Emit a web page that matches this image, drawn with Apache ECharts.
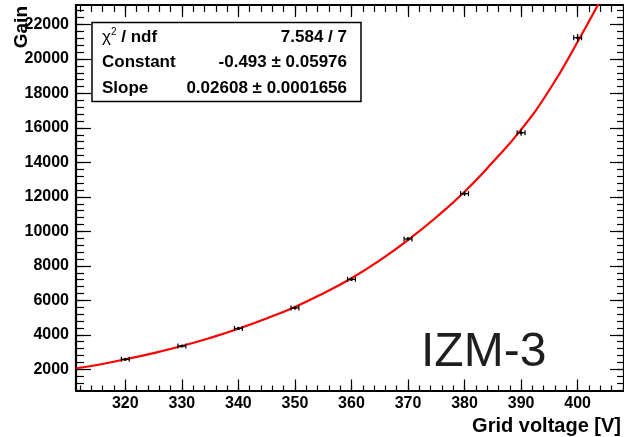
<!DOCTYPE html>
<html>
<head>
<meta charset="utf-8">
<script src="https://cdn.jsdelivr.net/npm/echarts@6/dist/echarts.min.js"></script>
<style>html,body{margin:0;padding:0;background:#fff}#c{width:624px;height:437px}</style>
</head>
<body>
<div id="c"></div>
<script>
// ---- data ----
const xTicks = [320, 330, 340, 350, 360, 370, 380, 390, 400];
const yTicks = [2000, 4000, 6000, 8000, 10000, 12000, 14000, 16000, 18000, 20000, 22000];
const voltage = [320, 330, 340, 350, 360, 370, 380, 390, 400];
const gain = [2580, 3350, 4370, 5560, 7220, 9560, 12190, 15720, 21230];
const voltageErr = [0.7, 0.7, 0.7, 0.7, 0.7, 0.7, 0.7, 0.7, 0.7];
const gainErr = [40, 50, 60, 70, 90, 110, 140, 170, 220];
const fitVoltage = [311.3, 315, 320, 325, 330, 335, 340, 345, 350, 355, 360, 365, 370, 375, 380, 385, 390, 395, 400, 405];
const fitGain = [2060, 2250, 2580, 2940, 3350, 3820, 4350, 4950, 5620, 6400, 7280, 8320, 9500, 10820, 12300, 14020, 15900, 18200, 21000, 24000];
const statNames = ['χ² / ndf', 'Constant', 'Slope'];
const statValues = ['7.584 / 7', '-0.493 ± 0.05976', '0.02608 ± 0.0001656'];
const xTitle = 'Grid voltage [V]';
const yTitle = 'Gain';
const label = 'IZM-3';

const X_MIN = 311.28, X_MAX = 408.2, Y_MIN = 770, Y_MAX = 23131;
const xMinor = []; for (let v = 312; v <= 408; v += 2) xMinor.push(v);
const yMinor = []; for (let v = 800; v <= 23000; v += 400) yMinor.push(v);

const FONT = '"Liberation Sans", Arial, Helvetica, sans-serif';
const gridPos = { left: 76, top: 5, right: 0, bottom: 46.5 };
const plain = function (v) { return String(Math.round(v)); };

function xAx(grid, pos, ticks, len, showLine, showLabel) {
  return {
    type: 'value', gridIndex: grid, position: pos, min: X_MIN, max: X_MAX,
    axisLine: { show: showLine, onZero: false, lineStyle: { color: '#000', width: 2.2 } },
    axisTick: { show: true, inside: true, length: len, customValues: ticks, lineStyle: { color: '#000', width: 1.2 } },
    axisLabel: { show: showLabel, customValues: xTicks, formatter: plain, margin: 5, color: '#000', fontSize: 16, fontWeight: 'bold', fontFamily: FONT },
    splitLine: { show: false }, minorTick: { show: false }
  };
}
function yAx(grid, pos, ticks, len, showLine, showLabel) {
  return {
    type: 'value', gridIndex: grid, position: pos, min: Y_MIN, max: Y_MAX,
    axisLine: { show: showLine, onZero: false, lineStyle: { color: '#000', width: 2.2 } },
    axisTick: { show: true, inside: true, length: len, customValues: ticks, lineStyle: { color: '#000', width: 1.2 } },
    axisLabel: { show: showLabel, customValues: yTicks, formatter: plain, margin: 7, color: '#000', fontSize: 16, fontWeight: 'bold', fontFamily: FONT },
    splitLine: { show: false }, minorTick: { show: false }
  };
}

const pts = voltage.map((v, i) => [v, gain[i], voltageErr[i], gainErr[i]]);
const fit = fitVoltage.map((v, i) => [v, fitGain[i]]);

const graphics = [
  { type: 'rect', shape: { x: 92, y: 22.5, width: 269, height: 79 }, style: { fill: '#fff', stroke: '#000', lineWidth: 1.5 }, z: 10 }
];
const rowY = [37, 62, 88];
statNames.forEach((n, i) => {
  if (i === 0) {
    graphics.push({ type: 'text', x: 102, y: rowY[i], z: 11, style: {
      text: '{c|χ}{s|2}{b| / ndf}', align: 'left', verticalAlign: 'middle',
      rich: {
        c: { fontSize: 17, fontFamily: FONT, fill: '#000' },
        s: { fontSize: 10, fontFamily: FONT, fill: '#000', padding: [0, 0, 9, 0] },
        b: { fontSize: 17, fontWeight: 'bold', fontFamily: FONT, fill: '#000' }
      }
    }});
  } else {
    graphics.push({ type: 'text', x: 102, y: rowY[i], z: 11, style: { text: n, align: 'left', verticalAlign: 'middle', fontSize: 17, fontWeight: 'bold', fontFamily: FONT, fill: '#000' } });
  }
  graphics.push({ type: 'text', x: 347, y: rowY[i], z: 11, style: { text: statValues[i], align: 'right', verticalAlign: 'middle', fontSize: 17, fontWeight: 'bold', fontFamily: FONT, fill: '#000' } });
});
graphics.push({ type: 'text', x: 421, y: 353, z: 11, style: { text: label, align: 'left', verticalAlign: 'middle', fontSize: 48, fontFamily: FONT, fill: '#1e1e1e' } });
graphics.push({ type: 'text', x: 621, y: 426, z: 11, style: { text: xTitle, align: 'right', verticalAlign: 'middle', fontSize: 20, fontWeight: 'bold', fontFamily: FONT, fill: '#000' } });
graphics.push({ type: 'text', x: 22, y: 6, rotation: Math.PI / 2, z: 11, style: { text: yTitle, align: 'right', verticalAlign: 'middle', fontSize: 19, fontWeight: 'bold', fontFamily: FONT, fill: '#000' } });

const chart = echarts.init(document.getElementById('c'), null, { renderer: 'canvas' });
chart.setOption({
  animation: false,
  backgroundColor: '#fff',
  grid: [Object.assign({ show: false }, gridPos), Object.assign({ show: false }, gridPos)],
  xAxis: [
    xAx(0, 'bottom', xTicks, 11, true, true),
    xAx(0, 'top', xTicks, 12, true, false),
    xAx(1, 'bottom', xMinor, 5, false, false),
    xAx(1, 'top', xMinor, 7, false, false)
  ],
  yAxis: [
    yAx(0, 'left', yTicks, 15, true, true),
    yAx(0, 'right', yTicks, 14, true, false),
    yAx(1, 'left', yMinor, 8, false, false),
    yAx(1, 'right', yMinor, 7, false, false)
  ],
  series: [
    {
      type: 'line', xAxisIndex: 0, yAxisIndex: 0, data: fit, smooth: true, showSymbol: false, symbol: 'none',
      lineStyle: { color: '#ff0000', width: 2.2 }, clip: true, z: 3
    },
    {
      type: 'custom', xAxisIndex: 0, yAxisIndex: 0, data: pts, z: 4,
      renderItem: function (params, api) {
        const x = api.value(0), y = api.value(1), ex = api.value(2), ey = api.value(3);
        const p = api.coord([x, y]);
        const l = api.coord([x - ex, y]);
        const r = api.coord([x + ex, y]);
        const t = api.coord([x, y + ey]);
        const b = api.coord([x, y - ey]);
        const st = { stroke: '#000', lineWidth: 1.2 };
        return { type: 'group', children: [
          { type: 'line', shape: { x1: l[0], y1: l[1], x2: r[0], y2: r[1] }, style: st },
          { type: 'line', shape: { x1: l[0], y1: l[1] - 2.5, x2: l[0], y2: l[1] + 2.5 }, style: st },
          { type: 'line', shape: { x1: r[0], y1: r[1] - 2.5, x2: r[0], y2: r[1] + 2.5 }, style: st },
          { type: 'line', shape: { x1: t[0], y1: t[1], x2: b[0], y2: b[1] }, style: st },
          { type: 'circle', shape: { cx: p[0], cy: p[1], r: 1.6 }, style: { fill: '#000' } }
        ]};
      }
    }
  ],
  graphic: graphics
});
</script>
</body>
</html>
